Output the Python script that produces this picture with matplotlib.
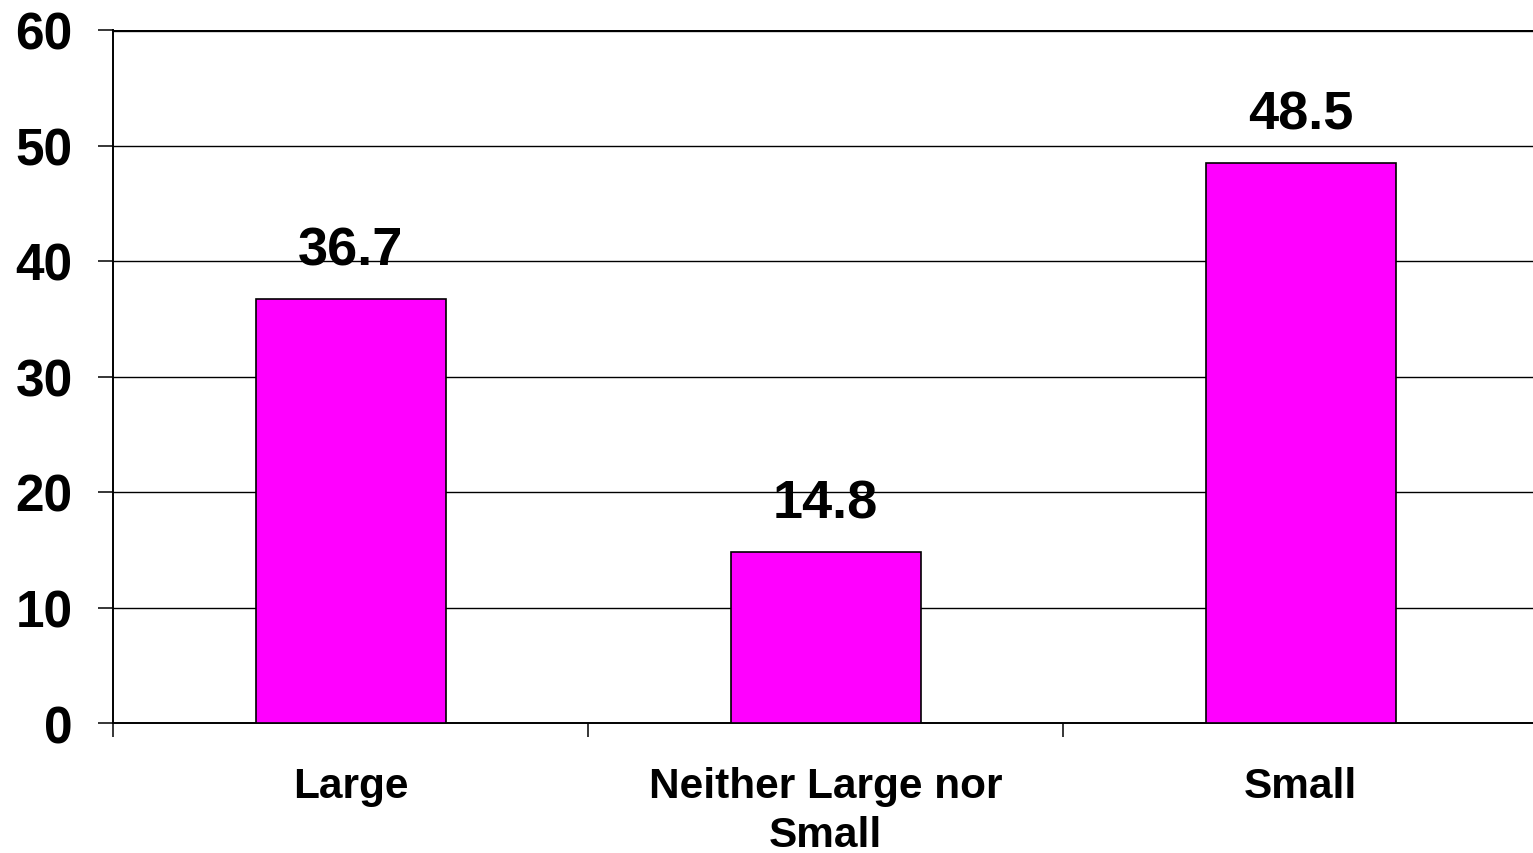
import numpy as np
import matplotlib
matplotlib.use("Agg")
import matplotlib.pyplot as plt
from matplotlib.ticker import FixedLocator

categories = ["Large", "Neither Large nor\nSmall", "Small"]
values = [36.7, 14.8, 48.5]
y_ticks = [0, 10, 20, 30, 40, 50, 60]

plt.rcParams['font.family'] = ['Liberation Sans', 'DejaVu Sans']
plt.rcParams['font.weight'] = 'bold'

fig = plt.figure(figsize=(15.33, 8.54), dpi=100)
W, H = 1533, 854
left, right, top, bottom = 113, 1538, 31, 724
ax = fig.add_axes([left / W, 1 - bottom / H, (right - left) / W, (bottom - top) / H])

x = np.arange(len(categories))
bars = ax.bar(x, values, width=0.4, color='#FF00FF', edgecolor='black', linewidth=1.2, zorder=3)

ax.set_xlim(-0.5, len(categories) - 0.5)
ax.set_ylim(0, 60)

# grid lines
for t in y_ticks[1:]:
    ax.axhline(t, color='black', linewidth=2.4 if t == 60 else 1.0, zorder=1)

ax.set_yticks(y_ticks)
ax.set_yticklabels([str(t) for t in y_ticks], fontsize=37, fontweight='bold')
ax.tick_params(axis='y', length=11, width=1.1, pad=18)

ax.set_xticks(x)
ax.set_xticklabels(categories, fontsize=30.5, fontweight='bold', linespacing=1.3)
ax.xaxis.set_minor_locator(FixedLocator(np.arange(-0.5, len(categories), 1.0)))
ax.tick_params(axis='x', which='major', length=0, pad=31)
ax.tick_params(axis='x', which='minor', length=10, width=1.1)

for s in ['top', 'right']:
    ax.spines[s].set_visible(False)
ax.spines['left'].set_linewidth(1.4)
ax.spines['bottom'].set_linewidth(1.4)

for b, v in zip(bars, values):
    ax.annotate(f"{v}", (b.get_x() + b.get_width() / 2, v), xytext=(0, 17),
                textcoords='offset points', ha='center', va='bottom',
                fontsize=39, fontweight='bold')

fig.savefig("out.png", dpi=100)
